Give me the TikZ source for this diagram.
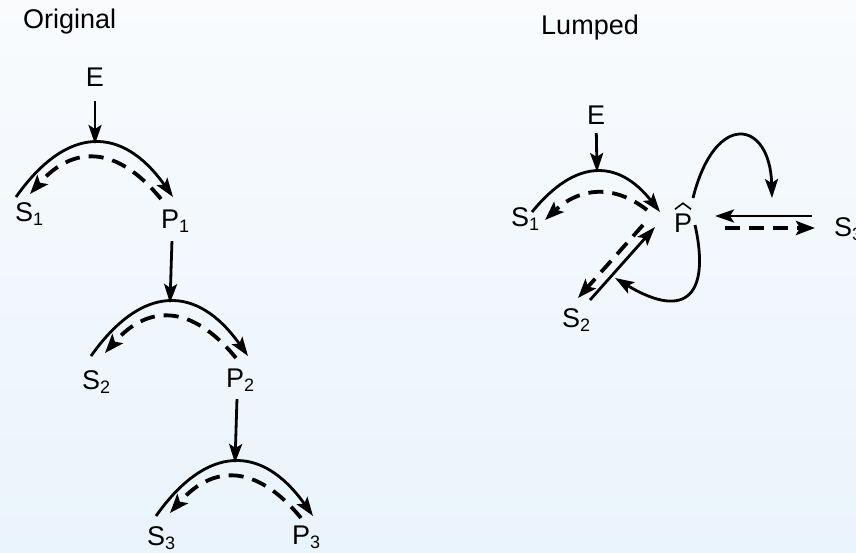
\documentclass[tikz,border=0pt]{standalone}
\usepackage{fontspec}
\setmainfont{Liberation Sans}
\usetikzlibrary{arrows.meta,calc}
\newcommand{\lbsub}[1]{\raisebox{-4pt}{\fontsize{18}{18}\selectfont #1}}
\definecolor{bgtop}{RGB}{249,251,253}
\definecolor{bgbot}{RGB}{234,244,252}
\tikzset{
  lbl/.style={inner sep=0pt, font=\fontsize{27}{32}\selectfont},
  tipsolid/.style={line width=2.8pt, -{Stealth[length=19pt,width=13pt,inset=4pt]}},
  dashline/.style={line width=3.8pt, dash pattern=on 15pt off 9pt, -{Stealth[length=19pt,width=14pt,inset=4pt]}},
  hatline/.style={line width=1.6pt},
}
\begin{document}
\begin{tikzpicture}[x=1pt,y=-1pt]
\useasboundingbox (0,0) rectangle (856,553);
\shade[top color=bgtop,bottom color=bgbot] (0,0) rectangle (856,553);

% ---------- Original ----------
\node[lbl, anchor=base west] (orig) at (23,29) {Original};
\node[lbl, anchor=base] (E1) at (95,87) {E};
\node[lbl, anchor=base west] (S1) at (15,222) {S\lbsub{1}};
\node[lbl, anchor=base west] (P1) at (161,229) {P\lbsub{1}};
\node[lbl, anchor=base west] (S2) at (82,389) {S\lbsub{2}};
\node[lbl, anchor=base west] (P2) at (226,387) {P\lbsub{2}};
\node[lbl, anchor=base west] (S3) at (147,545) {S\lbsub{3}};
\node[lbl, anchor=base west] (P3) at (292,544) {P\lbsub{3}};

\coordinate (A1) at (95,144);
\coordinate (A2) at (170,303);
\coordinate (A3) at (235,463);

\draw[tipsolid, shorten <=14pt] (E1) -- (A1);
\draw[tipsolid, shorten <=8pt] ([xshift=-3pt]P1.south) -- (A2);
\draw[tipsolid, shorten <=8pt] ([xshift=-3pt]P2.south) -- (A3);

\foreach \a/\n in {A1/1, A2/2, A3/3}{
  \begin{scope}[shift={(\a)}]
    \coordinate (sa\n) at (-79,53);
    \coordinate (pa\n) at (78,53);
    \coordinate (pd\n) at (66,55);
    \coordinate (sd\n) at (-65,50);
    \draw[tipsolid] (sa\n) .. controls (-28,-19) and (27,-19) .. (pa\n);
    \draw[dashline] (pd\n) .. controls (22,1.3) and (-21.7,0.7) .. (sd\n);
  \end{scope}
}

% ---------- Lumped ----------
\node[lbl, anchor=base east] (lump) at (639,35) {Lumped};
\node[lbl, anchor=base] (E2) at (596,125) {E};
\node[lbl, anchor=base west] (S1b) at (511,227) {S\lbsub{1}};
\node[lbl, anchor=base] (Ph) at (683,233) {P};
\draw[hatline] ([xshift=-8pt,yshift=5pt]Ph.north) -- ([yshift=11pt]Ph.north) -- ([xshift=8pt,yshift=5pt]Ph.north);
\node[lbl, anchor=base west] (S2b) at (562,327) {S\lbsub{2}};
\node[lbl, anchor=base west] (S3b) at (834,237) {S\lbsub{3}};

\coordinate (A4) at (597,172);
\draw[tipsolid, shorten <=8pt] (E2) -- (A4);
\begin{scope}[shift={(A4)}]
  \coordinate (sb) at (-65,40);
  \coordinate (pb) at (63,40);
  \coordinate (pbd) at (50,38);
  \coordinate (sbd) at (-52,48);
  \draw[tipsolid] (sb) .. controls (-21.7,-13.3) and (21,-13.3) .. (pb);
  \draw[dashline] (pbd) .. controls (16.7,12) and (-17.3,15.3) .. (sbd);
\end{scope}

\coordinate (Ptop) at (693,198);
\coordinate (Ltop) at (772,198);
\coordinate (Pbot) at (695,225);
\coordinate (Lbot) at (615,278);
\draw[tipsolid] (Ptop) .. controls (715,110) and (770,120) .. (Ltop);
\draw[tipsolid] (Pbot) .. controls (710,292) and (688,322) .. (Lbot);

\coordinate (h1) at (812,216);
\coordinate (h2) at (715,216);
\coordinate (h3) at (725,228);
\coordinate (h4) at (815,228);
\draw[tipsolid] (h1) -- (h2);
\draw[dashline] (h3) -- (h4);

\coordinate (d1) at (590,300);
\coordinate (d2) at (655,227);
\coordinate (d3) at (643,225);
\coordinate (d4) at (578,298);
\draw[tipsolid] (d1) -- (d2);
\draw[dashline] (d3) -- (d4);
\end{tikzpicture}
\end{document}
